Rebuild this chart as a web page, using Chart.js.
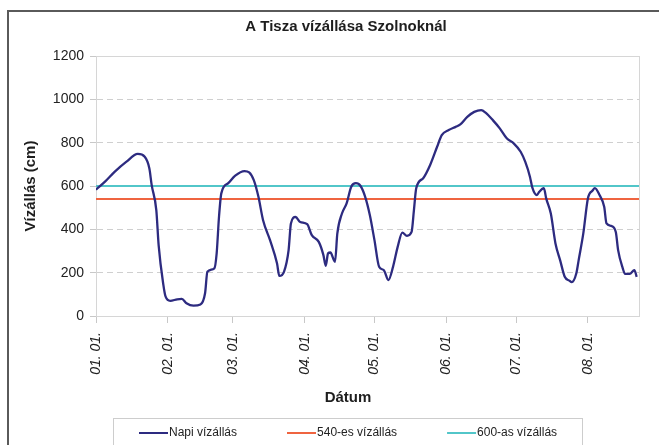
<!DOCTYPE html>
<html><head><meta charset="utf-8">
<script src="https://cdn.jsdelivr.net/npm/chart.js@4"></script>
<style>html,body{margin:0;padding:0;background:#fff;}#wrap{width:659px;height:445px;position:relative;}</style>
</head><body><div id="wrap"><canvas id="c" width="659" height="445"></canvas></div>
<script>
// ---- data ----
const chartTitle = 'A Tisza vízállása Szolnoknál';
const yAxisTitle = 'Vízállás (cm)';
const xAxisTitle = 'Dátum';
const seriesNames = ['Napi vízállás', '540-es vízállás', '600-as vízállás'];
// day offsets from 01. 01. and the water level (cm) read for those days
const dayOffsets = [0,4,8,13,18,21,23,24,26,27,29,30,32,35,37,39,42,45,47,48,51,52,53,54,57,60,64,66,68,70,72,75,78,79,81,83,84,86,88,91,93,96,98,99,100,101,103,104,106,108,110,112,114,116,118,120,122,124,126,128,130,132,134,136,137,138,141,144,147,149,152,155,157,160,163,166,168,171,174,177,180,183,185,187,188,190,191,193,194,196,198,200,202,204,205,207,208,210,212,214,215,217,219,220,222,224,225,227,228,230,232,233];
const dailyLevels = [583,621,665,711,748,735,681,604,488,326,146,89,70,77,79,59,48,53,105,204,220,289,457,566,613,648,669,663,627,550,442,350,243,185,204,304,427,457,434,424,373,342,281,232,289,293,250,381,473,520,597,613,600,550,466,350,227,212,166,227,319,385,370,388,488,590,636,697,781,835,858,873,884,919,942,950,937,904,866,820,797,758,711,643,594,558,573,590,543,473,335,258,181,163,156,197,258,381,543,579,590,558,504,427,416,388,304,220,194,194,212,181];
const thresholdLevels = [540, 600];
const monthStartDays = [0,31,59,90,120,151,181,212];
const monthTickLabels = ['01. 01.','02. 01.','03. 01.','04. 01.','05. 01.','06. 01.','07. 01.','08. 01.'];
const yTickValues = [0,200,400,600,800,1000,1200];
const lastDay = 234;

// ---- styles ----
const seriesColors = ['#2D2B80', '#EF6440', '#52C6C9'];
const FONT = '"Liberation Sans", Arial, sans-serif';

const levelPoints = dayOffsets.map((d, i) => ({x: d, y: dailyLevels[i]}));
const thresholdSets = thresholdLevels.map((lv, i) => ({
  label: seriesNames[i + 1],
  data: [{x: 0, y: lv}, {x: lastDay, y: lv}],
  borderColor: seriesColors[i + 1], borderWidth: 2.2, pointRadius: 0, tension: 0
}));

const decor = {
  id: 'decor',
  beforeDatasetsDraw(chart) {
    const {ctx, chartArea: a} = chart;
    ctx.save();
    ctx.strokeStyle = '#d6d6d6'; ctx.lineWidth = 1;
    ctx.strokeRect(Math.round(a.left) + 0.5, Math.round(a.top) + 0.5, Math.round(a.right - a.left), Math.round(a.bottom - a.top));
    ctx.restore();
  },
  afterDraw(chart) {
    const {ctx, chartArea: a} = chart;
    ctx.save();
    // outer frame
    ctx.strokeStyle = '#5a5a5a'; ctx.lineWidth = 2;
    ctx.strokeRect(8, 11, 720, 520);
    // title
    ctx.fillStyle = '#1e1e1e';
    ctx.textAlign = 'center'; ctx.textBaseline = 'middle';
    ctx.font = 'bold 15px ' + FONT;
    ctx.fillText(chartTitle, 346, 27);
    // x axis title
    ctx.fillText(xAxisTitle, 348, 398);
    // y axis title
    ctx.save();
    ctx.translate(31, (a.top + a.bottom) / 2);
    ctx.rotate(-Math.PI / 2);
    ctx.fillText(yAxisTitle, 0, 0);
    ctx.restore();
    // legend
    ctx.strokeStyle = '#cdcdcd'; ctx.lineWidth = 1;
    ctx.strokeRect(113.5, 418.5, 469, 60);
    ctx.font = '12px ' + FONT;
    ctx.textAlign = 'left';
    let x = 139;
    const y = 433;
    chart.data.datasets.forEach(ds => {
      ctx.strokeStyle = ds.borderColor; ctx.lineWidth = 2;
      ctx.beginPath(); ctx.moveTo(x, y); ctx.lineTo(x + 29, y); ctx.stroke();
      ctx.fillStyle = '#222';
      ctx.fillText(ds.label, x + 30, y);
      x += 30 + ctx.measureText(ds.label).width + 50;
    });
    ctx.restore();
  }
};

new Chart(document.getElementById('c'), {
  type: 'line',
  data: {
    datasets: [
      {label: seriesNames[0], data: levelPoints, borderColor: seriesColors[0], borderWidth: 2.3,
       pointRadius: 0, cubicInterpolationMode: 'monotone'},
      ...thresholdSets
    ]
  },
  options: {
    responsive: false, animation: false,
    layout: {padding: {left: 0, right: 20, top: 56, bottom: 0}},
    plugins: {legend: {display: false}, title: {display: false}, tooltip: {enabled: false}},
    scales: {
      x: {
        type: 'linear', min: 0, max: lastDay,
        afterBuildTicks: s => { s.ticks = monthStartDays.map(v => ({value: v})); },
        afterFit: s => { s.height = 129; },
        ticks: {
          autoSkip: false, minRotation: 90, maxRotation: 90, padding: 9, color: '#222',
          font: {family: FONT, size: 14, style: 'italic'},
          callback: v => { const i = monthStartDays.indexOf(v); return i >= 0 ? monthTickLabels[i] : ''; }
        },
        grid: {drawOnChartArea: false, drawTicks: true, tickLength: 7, tickColor: '#c8c8c8'},
        border: {display: true, color: '#d0d0d0', width: 1}
      },
      y: {
        min: 0, max: 1200,
        afterBuildTicks: s => { s.ticks = yTickValues.map(v => ({value: v})); },
        afterFit: s => { s.width = 96; },
        ticks: {padding: 6, color: '#222', font: {family: FONT, size: 14}, callback: v => String(v)},
        grid: {color: '#cfcfcf', lineWidth: 1, tickLength: 6, tickColor: '#c8c8c8', tickBorderDash: []},
        border: {display: true, color: '#d0d0d0', width: 1, dash: [6, 4]}
      }
    }
  },
  plugins: [decor]
});
</script>
</body></html>
